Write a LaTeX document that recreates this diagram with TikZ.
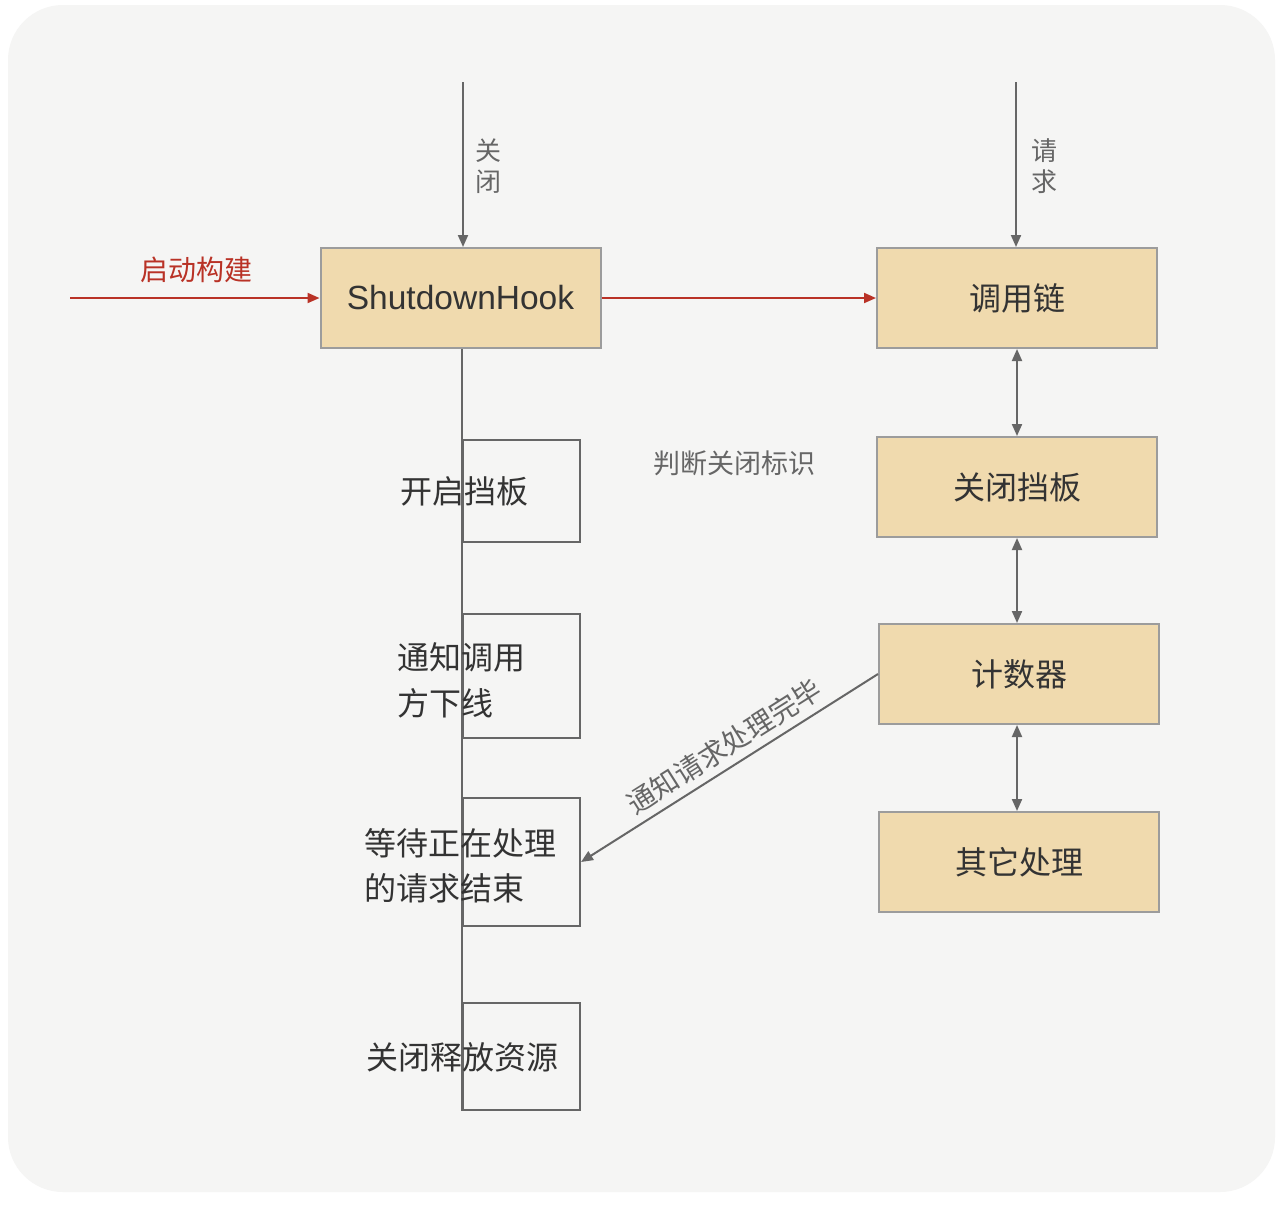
\documentclass[tikz,border=0pt]{standalone}
\usepackage{fontspec}
\setmainfont{Liberation Sans}
\newfontfamily\cjk{Noto Sans CJK SC}
\usetikzlibrary{arrows.meta}
\definecolor{bgc}{HTML}{F5F5F4}
\definecolor{boxfill}{HTML}{F0DAAE}
\definecolor{boxline}{HTML}{9C9C9C}
\definecolor{linec}{HTML}{666666}
\definecolor{redc}{HTML}{B93226}
\definecolor{txt}{HTML}{333333}
\tikzset{
  tan/.style={draw=boxline, line width=2pt, fill=boxfill, minimum width=280pt, minimum height=100pt, inner sep=0pt, text=txt},
  stepbox/.style={draw=linec, line width=2pt, minimum width=117pt, inner sep=0pt},
  conn/.style={draw=linec, line width=2pt},
  arr/.style={conn, -{Triangle[length=12pt,width=10pt]}},
  darr/.style={conn, {Triangle[length=12pt,width=10pt]}-{Triangle[length=12pt,width=10pt]}},
  rarr/.style={draw=redc, line width=2pt, -{Triangle[length=12pt,width=10pt]}},
  lbl/.style={text=txt, inner sep=0pt},
}
\begin{document}
\begin{tikzpicture}[x=1pt,y=-1pt]
\useasboundingbox (0,0) rectangle (1284,1208);
\fill[white] (0,0) rectangle (1284,1208);
\fill[bgc, rounded corners=55pt] (8,5) rectangle (1275,1192);

% main boxes
\node[tan, font=\fontsize{33.5}{38}\selectfont] (sh) at (460.5,298) {ShutdownHook};
\node[tan, font=\cjk\fontsize{32}{36}\selectfont] (chain) at (1017,298) {调用链};
\node[tan, font=\cjk\fontsize{32}{36}\selectfont] (gate) at (1017,487) {关闭挡板};
\node[tan, font=\cjk\fontsize{32}{36}\selectfont] (cnt) at (1019,674) {计数器};
\node[tan, font=\cjk\fontsize{32}{36}\selectfont] (other) at (1019,862) {其它处理};

% left step boxes
\node[stepbox, minimum height=102pt] (b1) at (521.5,491) {};
\node[stepbox, minimum height=124pt] (b2) at (521.5,676) {};
\node[stepbox, minimum height=128pt] (b3) at (521.5,862) {};
\node[stepbox, minimum height=107pt] (b4) at (521.5,1056.5) {};

% spine
\draw[conn] (b4.south west |- sh.south) -- (b4.south west);

% step texts
\node[lbl, font=\cjk\fontsize{32}{46}\selectfont] (t1) at (464,491) {开启挡板};
\node[lbl, font=\cjk\fontsize{32}{46}\selectfont, align=left, anchor=west] (t2) at (397,680) {通知调用\\方下线};
\node[lbl, font=\cjk\fontsize{32}{45}\selectfont, align=left, anchor=west] (t3) at (364,866) {等待正在处理\\的请求结束};
\node[lbl, font=\cjk\fontsize{32}{46}\selectfont] (t4) at (462,1057) {关闭释放资源};

% top inputs
\coordinate (closeIn) at (463,82);
\coordinate (reqIn) at (1016,82);
\draw[arr] (closeIn) -- (closeIn |- sh.north);
\draw[arr] (reqIn) -- (reqIn |- chain.north);
\node[lbl, font=\cjk\fontsize{26}{31}\selectfont, align=center, text=linec] (lclose) at (488,166) {关\\闭};
\node[lbl, font=\cjk\fontsize{26}{31}\selectfont, align=center, text=linec] (lreq) at (1044,166) {请\\求};

% red start arrow
\coordinate (startIn) at (70,298);
\draw[rarr] (startIn) -- (sh.west);
\node[lbl, font=\cjk\fontsize{28}{32}\selectfont, text=redc] (lstart) at (196,270) {启动构建};
\draw[rarr] (sh.east) -- (chain.west);

% double arrows
\draw[darr] (chain.south) -- (gate.north);
\draw[darr] (gate.south) -- (cnt.north -| gate.south);
\draw[darr] (cnt.south -| gate.south) -- (other.north -| gate.south);

\node[lbl, font=\cjk\fontsize{27}{30}\selectfont, text=linec] (ljudge) at (734,463) {判断关闭标识};

% diagonal
\draw[arr] (cnt.west) -- node[pos=0.48, sloped, above=7pt, lbl, text=linec, font=\cjk\fontsize{28}{32}\selectfont] (ldone) {通知请求处理完毕} (b3.east);
\end{tikzpicture}
\end{document}
